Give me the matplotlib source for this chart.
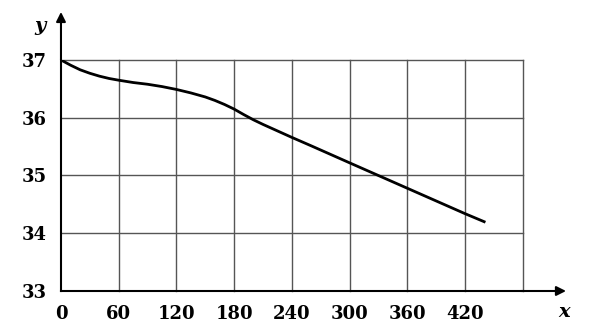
import matplotlib
matplotlib.use('Agg')
import matplotlib.pyplot as plt

# values
x_vals = [0, 10, 20, 30, 40, 50, 60, 75, 90, 105, 120, 135, 150, 160, 170, 180, 190, 200, 210, 220, 230, 240, 260, 300, 360, 420, 440]
y_vals = [37.0, 36.91, 36.83, 36.77, 36.72, 36.68, 36.65, 36.61, 36.58, 36.54, 36.49, 36.43, 36.36, 36.30, 36.23, 36.15, 36.055, 35.965, 35.885, 35.81, 35.735, 35.66, 35.515, 35.22, 34.78, 34.34, 34.2]

x_ticks = [0, 60, 120, 180, 240, 300, 360, 420]
y_ticks = [33, 34, 35, 36, 37]
x_grid = [60, 120, 180, 240, 300, 360, 420, 480]
y_grid = [34, 35, 36, 37]

plt.rcParams['font.family'] = 'DejaVu Serif'

fig = plt.figure(figsize=(5.99, 3.32), dpi=100)
ax = fig.add_axes([0.1018, 0.1235, 0.7707, 0.6958])
ax.set_xlim(0, 480)
ax.set_ylim(33, 37)

for gx in x_grid:
    ax.axvline(gx, color='#555555', lw=1.0, clip_on=False, zorder=1)
for gy in y_grid:
    ax.axhline(gy, color='#555555', lw=1.0, clip_on=False, zorder=1)

ax.plot(x_vals, y_vals, color='black', lw=2.0, zorder=3)

for s in ['top', 'right']:
    ax.spines[s].set_visible(False)
for s in ['left', 'bottom']:
    ax.spines[s].set_linewidth(1.5)

# arrows on the axes
ax.annotate('', xy=(1.10, 0), xycoords='axes fraction', xytext=(0.99, 0),
            arrowprops=dict(arrowstyle='-|>', color='black', lw=1.5, mutation_scale=14),
            annotation_clip=False)
ax.annotate('', xy=(0, 1.22), xycoords='axes fraction', xytext=(0, 0.99),
            arrowprops=dict(arrowstyle='-|>', color='black', lw=1.5, mutation_scale=14),
            annotation_clip=False)

ax.set_xticks(x_ticks)
ax.set_yticks(y_ticks)
ax.set_xticklabels([str(t) for t in x_ticks], fontsize=13, fontweight='bold')
ax.set_yticklabels([str(t) for t in y_ticks], fontsize=13, fontweight='bold')
ax.tick_params(length=0, pad=10)

ax.text(1.09, -0.09, 'x', transform=ax.transAxes, fontsize=14, style='italic',
        fontweight='bold', ha='center', va='center')
ax.text(-0.045, 1.145, 'y', transform=ax.transAxes, fontsize=14, style='italic',
        fontweight='bold', ha='center', va='center')

fig.savefig('out.png', dpi=100)
